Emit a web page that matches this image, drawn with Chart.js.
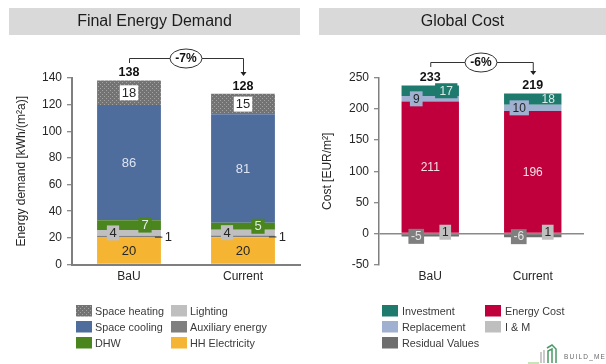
<!DOCTYPE html>
<html>
<head>
<meta charset="utf-8">
<style>
  html, body { margin: 0; padding: 0; background: #fff; }
  #page { position: relative; width: 606px; height: 364px; overflow: hidden; }
  canvas { position: absolute; top: 0; }
  #energy { left: 0; }
  #cost { left: 303px; }
</style>
<script src="https://cdn.jsdelivr.net/npm/chart.js@4"></script>
</head>
<body>
<div id="page">
  <canvas id="energy" width="303" height="364"></canvas>
  <canvas id="cost" width="303" height="364"></canvas>
</div>
<script>
const categories = ['BaU', 'Current'];

// Final energy demand, kWh/(m²a). Labels show these figures rounded.
const hhElectricity = [20.3, 20.4];
const auxiliaryEnergy = [1.2, 1.3];
const lighting = [4.4, 4.4];
const dhw = [7.4, 5.2];
const spaceCooling = [86.4, 81.4];
const spaceHeating = [18.4, 15.4];
const energyTotals = [138, 128];
const energyChange = '-7%';
const energyTicks = { min: 0, max: 140, step: 20 };

// Global cost, EUR/m²
const maintenance = [1, 1];
const energyCost = [211, 196];
const replacement = [9, 10];
const investment = [17, 18];
const residualValues = [-5, -6];
const costTotals = [233, 219];
const costChange = '-6%';
const costTicks = { min: -50, max: 250, step: 50 };

const FONT = '"Liberation Sans", Arial, sans-serif';
const INK = '#262626';

// Dotted fill used for the space heating segments
function dottedFill() {
  const tile = document.createElement('canvas');
  tile.width = tile.height = 4;
  const c = tile.getContext('2d');
  c.fillStyle = '#737373';
  c.fillRect(0, 0, 4, 4);
  c.fillStyle = '#a3a3a3';
  c.fillRect(0, 0, 1, 1);
  c.fillRect(2, 2, 1, 1);
  return document.createElement('canvas').getContext('2d').createPattern(tile, 'repeat');
}

function segment(label, data, color, labelStyle) {
  return { label, data, backgroundColor: color, borderWidth: 0, stack: 's', labelStyle };
}

// Value labels, leader line, totals and the change bracket above the bars
const annotations = {
  id: 'annotations',
  afterDatasetsDraw(chart, args, opts) {
    const ctx = chart.ctx;
    const x = chart.scales.x, y = chart.scales.y;
    const valueFont = opts.valueSize + 'px ' + FONT;
    ctx.save();
    ctx.textAlign = 'center';
    ctx.textBaseline = 'middle';

    chart.data.datasets.forEach((ds, d) => {
      const s = ds.labelStyle;
      if (!s) return;
      chart.getDatasetMeta(d).data.forEach((bar, i) => {
        const text = String(Math.round(ds.data[i]));
        const cy = (bar.y + bar.base) / 2 + (s.dy || 0);
        ctx.font = valueFont;
        if (s.leader) {
          ctx.strokeStyle = '#333';
          ctx.lineWidth = 1;
          ctx.beginPath();
          ctx.moveTo(bar.x + bar.width / 2 - 6, cy + 0.5);
          ctx.lineTo(bar.x + bar.width / 2 + 1.5, cy + 0.5);
          ctx.stroke();
          ctx.fillStyle = INK;
          ctx.fillText(text, bar.x + bar.width / 2 + 7.5, cy + 0.5);
          return;
        }
        const cx = bar.x + (s.dx ? s.dx[i] : 0);
        const box = s.box ? s.box[i] : null;
        if (box) {
          const w = ctx.measureText(text).width + (s.pad || 5);
          ctx.fillStyle = box;
          ctx.fillRect(cx - w / 2, cy - 7.5, w, 15);
        }
        ctx.fillStyle = s.color;
        ctx.fillText(text, cx, cy + 0.5);
      });
    });

    // Totals sit just above the positive stack
    ctx.font = 'bold 12.5px ' + FONT;
    ctx.fillStyle = '#111';
    opts.totals.forEach((total, i) => {
      let sum = 0;
      chart.data.datasets.forEach(ds => { if (ds.data[i] > 0) sum += ds.data[i]; });
      ctx.fillText(String(total), x.getPixelForValue(i), y.getPixelForValue(sum) - 7.5);
    });

    // Bracket from the first bar to the second with the relative change
    const x0 = x.getPixelForValue(0), x1 = x.getPixelForValue(1);
    const mid = opts.bracket.pill;
    const by = opts.bracket.y;
    ctx.strokeStyle = '#333';
    ctx.lineWidth = 1;
    ctx.beginPath();
    ctx.moveTo(x0 + 0.5, opts.bracket.startY);
    ctx.lineTo(x0 + 0.5, by + 0.5);
    ctx.lineTo(x1 + 0.5, by + 0.5);
    ctx.lineTo(x1 + 0.5, opts.bracket.endY);
    ctx.stroke();
    ctx.fillStyle = '#222';
    ctx.beginPath();
    ctx.moveTo(x1 - 2.5, opts.bracket.endY - 3);
    ctx.lineTo(x1 + 3.5, opts.bracket.endY - 3);
    ctx.lineTo(x1 + 0.5, opts.bracket.endY + 1);
    ctx.closePath();
    ctx.fill();
    ctx.fillStyle = '#fff';
    ctx.beginPath();
    ctx.ellipse(mid, by + 0.5, 16, 9.5, 0, 0, Math.PI * 2);
    ctx.fill();
    ctx.stroke();
    ctx.font = 'bold 12px ' + FONT;
    ctx.fillStyle = '#111';
    ctx.fillText(opts.change, mid, by + 1);
    ctx.restore();
  }
};

// Heading band and the legend grid below the plot
const frame = {
  id: 'frame',
  beforeDraw(chart, args, opts) {
    const ctx = chart.ctx;
    ctx.save();
    ctx.fillStyle = '#d9d9d9';
    ctx.fillRect(opts.band[0], 8, opts.band[1], 27);
    ctx.fillStyle = '#1c1c1c';
    ctx.font = '16px ' + FONT;
    ctx.textAlign = 'center';
    ctx.textBaseline = 'middle';
    ctx.fillText(opts.title, opts.band[0] + opts.band[1] / 2, 22);
    ctx.restore();
  },
  afterDraw(chart, args, opts) {
    const ctx = chart.ctx;
    ctx.save();
    ctx.font = '10.8px ' + FONT;
    ctx.textBaseline = 'middle';
    ctx.textAlign = 'left';
    opts.legend.forEach(([d, col, row]) => {
      const ds = chart.data.datasets[d];
      const sx = opts.columns[col], sy = [305, 321, 337][row];
      ctx.fillStyle = ds.backgroundColor;
      ctx.fillRect(sx, sy, 16, 11.5);
      ctx.fillStyle = '#3a3a3a';
      ctx.fillText(ds.label, sx + opts.textGap, sy + 7);
    });
    if (opts.mark) opts.mark(ctx);
    ctx.restore();
  }
};

function options(cfg) {
  return {
    responsive: false,
    animation: false,
    layout: { padding: { top: 78, bottom: 69.5, left: 0, right: cfg.right } },
    plugins: {
      legend: { display: false },
      tooltip: { enabled: false },
      annotations: cfg.annotations,
      frame: cfg.frame
    },
    scales: {
      x: {
        stacked: true,
        afterFit(s) { s.height = 30; },
        border: { display: cfg.baseAxis, color: '#7f7f7f', width: 2 },
        grid: { display: false, drawTicks: false },
        ticks: { color: INK, font: { family: FONT, size: 12 }, padding: 5, maxRotation: 0 }
      },
      y: {
        stacked: true,
        min: cfg.ticks.min,
        max: cfg.ticks.max,
        afterFit(s) { s.width = cfg.axisWidth; },
        afterBuildTicks(s) {
          const list = [];
          for (let v = cfg.ticks.min; v <= cfg.ticks.max; v += cfg.ticks.step) list.push({ value: v });
          s.ticks = list;
        },
        border: { color: '#7f7f7f', width: cfg.axisLine },
        grid: {
          tickLength: 5,
          tickColor: '#666',
          tickWidth: 1,
          lineWidth: 1.5,
          color: c => (!cfg.baseAxis && c.tick && c.tick.value === 0) ? '#8a8a8a' : 'rgba(0,0,0,0)'
        },
        ticks: { color: INK, font: { family: FONT, size: 12 }, padding: 5 },
        title: {
          display: true,
          text: cfg.axisTitle,
          color: INK,
          font: { family: FONT, size: 12 },
          padding: { top: cfg.titleInset, bottom: 0 }
        }
      }
    }
  };
}

const BAR = { categoryPercentage: 1, barPercentage: 0.56 };

new Chart(document.getElementById('energy'), {
  type: 'bar',
  plugins: [frame, annotations],
  data: {
    labels: categories,
    datasets: [
      segment('HH Electricity', hhElectricity, '#f5b431', { color: INK }),
      segment('Auxiliary energy', auxiliaryEnergy, '#7f7f7f', { leader: true }),
      segment('Lighting', lighting, '#bfbfbf', { color: INK, dx: [-16, -16], box: ['#bfbfbf', '#bfbfbf'] }),
      segment('DHW', dhw, '#4a851e', { color: '#dfeedd', dx: [16, 15], box: ['#4a851e', '#4a851e'], pad: 6 }),
      segment('Space cooling', spaceCooling, '#4f6d9c', { color: '#dbe4f2' }),
      segment('Space heating', spaceHeating, dottedFill(), { color: INK, box: ['#ffffff', '#ffffff'], pad: 4 })
    ].map(d => Object.assign(d, BAR))
  },
  options: options({
    right: 3, axisWidth: 72, axisLine: 2, baseAxis: true, titleInset: 14,
    ticks: energyTicks,
    axisTitle: 'Energy demand [kWh/(m²a)]',
    annotations: {
      valueSize: 13,
      totals: energyTotals, change: energyChange,
      bracket: { y: 58, startY: 63, endY: 75, pill: 186 }
    },
    frame: {
      title: 'Final Energy Demand', band: [9, 291],
      columns: [76, 171], textGap: 19,
      legend: [[5, 0, 0], [4, 0, 1], [3, 0, 2], [2, 1, 0], [1, 1, 1], [0, 1, 2]]
    }
  })
});

// Small project mark in the lower corner of the page
function projectMark(ctx) {
  ctx.lineWidth = 1.2;
  ctx.strokeStyle = '#a5d38a';
  ctx.beginPath();
  ctx.moveTo(225, 363);
  ctx.lineTo(236, 363);
  ctx.stroke();
  ctx.strokeStyle = '#a8a8a8';
  ctx.beginPath();
  ctx.moveTo(238, 363);
  ctx.lineTo(238, 352);
  ctx.moveTo(241, 363);
  ctx.lineTo(241, 350);
  ctx.stroke();
  ctx.strokeStyle = '#4a9a66';
  ctx.lineWidth = 1.5;
  ctx.beginPath();
  ctx.moveTo(245, 363);
  ctx.lineTo(245, 351);
  ctx.lineTo(249, 349);
  ctx.lineTo(249, 363);
  ctx.moveTo(244, 348);
  ctx.lineTo(249, 345);
  ctx.lineTo(253, 349);
  ctx.lineTo(253, 363);
  ctx.stroke();
  ctx.fillStyle = '#6a6a6a';
  ctx.font = '6.5px ' + FONT;
  ctx.textAlign = 'left';
  ctx.textBaseline = 'middle';
  if ('letterSpacing' in ctx) ctx.letterSpacing = '1.2px';
  ctx.fillText('BUILD_ME', 261, 357.5);
  if ('letterSpacing' in ctx) ctx.letterSpacing = '0px';
}

new Chart(document.getElementById('cost'), {
  type: 'bar',
  plugins: [frame, annotations],
  data: {
    labels: categories,
    datasets: [
      segment('I & M', maintenance, '#bfbfbf', { color: INK, dx: [15, 15], box: ['#bfbfbf', '#bfbfbf'], dy: -0.5 }),
      segment('Energy Cost', energyCost, '#bf003c', { color: '#f5dfe6' }),
      segment('Replacement', replacement, '#9fb0d0', { color: INK, dx: [-14, -13.5], box: ['#9fb0d0', '#9fb0d0'], pad: 6 }),
      segment('Investment', investment, '#1f7a6e', { color: '#d5ece6', dx: [16, 15.5], box: ['#1f7a6e', null], pad: 9 }),
      segment('Residual Values', residualValues, '#6e6e6e', { color: '#e6e6e6', dx: [-14, -14], box: ['#7f7f7f', '#7f7f7f'], dy: 1 })
    ].map(d => Object.assign(d, BAR))
  },
  options: options({
    right: 22, axisWidth: 76, axisLine: 1.5, baseAxis: false, titleInset: 17,
    ticks: costTicks,
    axisTitle: 'Cost [EUR/m²]',
    annotations: {
      valueSize: 12,
      totals: costTotals, change: costChange,
      bracket: { y: 62, startY: 67, endY: 74, pill: 178 }
    },
    frame: {
      title: 'Global Cost', band: [16, 287],
      columns: [79, 182], textGap: 20,
      legend: [[3, 0, 0], [2, 0, 1], [4, 0, 2], [1, 1, 0], [0, 1, 1]],
      mark: projectMark
    }
  })
});
</script>
</body>
</html>
